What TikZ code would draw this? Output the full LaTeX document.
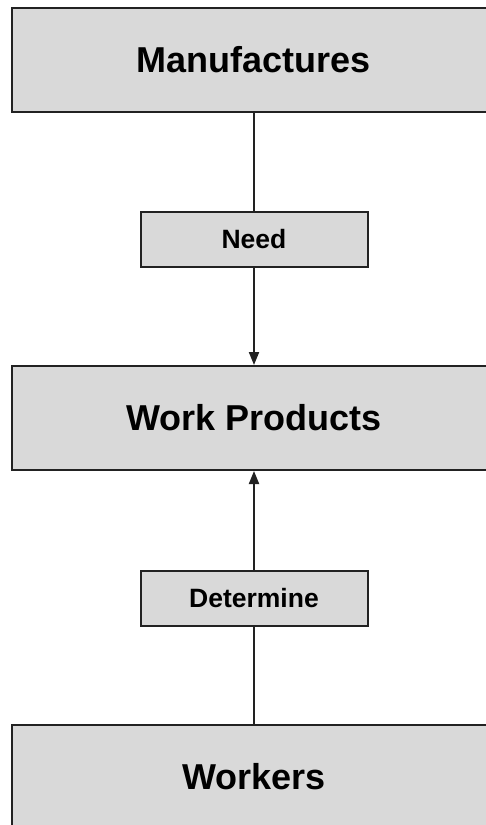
\documentclass[tikz,border=0pt]{standalone}
\usepackage{fontspec}
\setmainfont{Liberation Sans}
\usetikzlibrary{arrows.meta}

\definecolor{boxgray}{HTML}{D9D9D9}
\definecolor{edgegray}{HTML}{222222}

\tikzset{
  bigbox/.style={draw=edgegray, fill=boxgray, line width=2pt, inner sep=0pt,
    minimum width=484pt, minimum height=104pt, font=\fontsize{36}{40}\selectfont\bfseries},
  verbbox/.style={draw=edgegray, fill=boxgray, line width=2pt, inner sep=0pt,
    minimum width=227pt, minimum height=55pt, font=\fontsize{26.5}{30}\selectfont\bfseries},
  link/.style={draw=edgegray, line width=2pt},
  tip/.style={-{Triangle[width=10pt,length=13pt]}}
}

\begin{document}
\begin{tikzpicture}[x=1pt,y=-1pt]
        \useasboundingbox[fill=white] (0,0) rectangle (486,825);
        \clip (0,0) rectangle (486,825);
        \node[bigbox] (manuf) at (254,60) {Manufactures};
        \node[verbbox] (need) at (254,239.5) {Need};
        \node[bigbox] (prod) at (254,418) {Work Products};
        \node[verbbox] (determ) at (254,598) {Determine};
        \node[bigbox] (work) at (254,777) {Workers};
        \draw[link] (manuf) -- (need);
        \draw[link,tip] (need) -- (prod);
        \draw[link] (work) -- (determ);
        \draw[link,tip] (determ) -- (prod);
      \end{tikzpicture}
\end{document}
